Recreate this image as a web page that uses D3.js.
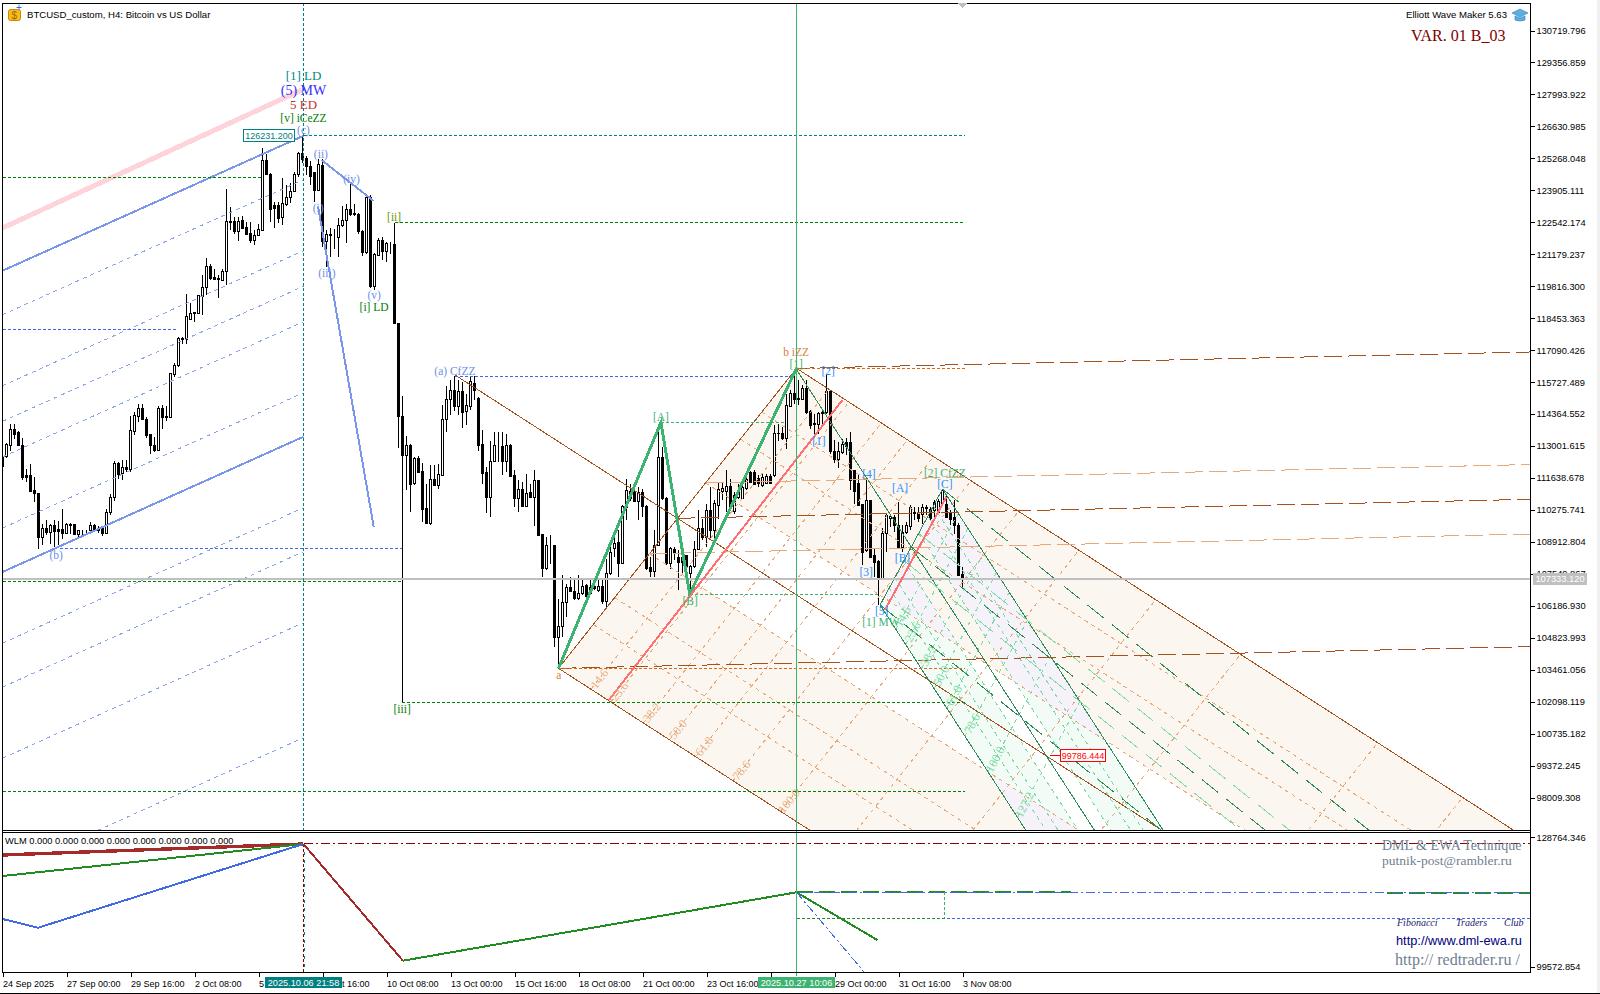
<!DOCTYPE html>
<html>
<head>
<meta charset="utf-8">
<script src="https://cdn.jsdelivr.net/npm/d3@7/dist/d3.min.js"></script>
<style>
  body { margin: 0; background: #fff; }
  svg { display: block; }
  svg line, svg path, svg rect, svg polygon { shape-rendering: crispEdges; }
  text { font-family: "Liberation Sans", sans-serif; font-size: 9px; fill: #000; }
  .ser { font-family: "Liberation Serif", serif; }
</style>
</head>
<body>
<svg id="chart" width="1600" height="994"></svg>
<script>
// H4 candles, bar 0 = 24 Sep 2025 08:00
const opens = [
112558,112558,113028,113696,113582,113013,111733,111733,111107,110964,
109115,109470,109328,109613,109428,109428,109285,109627,109655,109229,
109385,109371,109385,109599,109470,109470,109285,110182,110794,112245,
111818,112074,111989,113639,114237,114593,114123,113483,113013,112814,
114593,114265,114235,116058,116442,117566,117538,118391,118705,118648,
119388,119757,120668,120170,120128,120071,120426,122560,122560,122134,
122603,122318,122062,121749,121977,122205,125193,124595,123272,123272,
122731,123315,123599,123841,124566,125477,125249,124936,124652,123912,
124979,121707,122020,121949,121892,122404,122603,123087,122902,122888,
122162,121237,123599,119786,121138,121749,121280,121607,121593,118235,
114265,112615,113028,111420,112487,111932,110324,109684,111576,111320,
111761,114123,114990,115375,114692,115332,114450,114705,115686,115034,
113070,111875,110820,112344,112954,112985,112359,113027,111747,110779,
111135,110438,111007,110822,111533,109214,107791,108759,108759,104818,
105302,106340,106980,106810,106483,106696,107051,106696,107009,106838,
107023,106383,107578,108617,108887,108005,110395,110751,111035,110651,
111035,110438,107806,107663,108759,112529,110779,107976,108588,108261,
108261,108332,107550,107863,108588,109470,109114,110253,109399,110466,
111078,111078,111277,110210,110822,110751,111206,111889,111889,111604,
111320,111420,111718,111747,113554,113554,113312,114692,115233,115019,
114991,115446,114450,113952,113924,114379,114422,115332,112785,112415,
112743,113141,113141,111960,111391,110509,108545,110680,108332,108090,
107336,109257,109897,109968,109613,108688,109328,109584,110182,110182,
110082,110395,110295,110253,110182,110537,110509,110182,109940,109613,
107507];
const highs = [
112601,113127,113924,113952,113625,113355,112031,112216,111676,110964,
109684,109826,109684,109826,109798,110324,109712,109712,109684,109428,
109428,109428,109769,109655,109599,109542,110324,110936,112345,112316,
112387,112416,114265,114450,114778,114778,114237,113525,113383,114692,
114735,114692,116115,116542,117652,117652,119473,119103,118705,119430,
120284,121038,120781,120569,120284,120569,123940,123172,122774,122774,
122802,122560,122560,122205,122461,125690,125449,124623,123414,123414,
124410,124126,124197,124695,125534,126231,125363,125136,124695,125221,
125221,122205,122276,122261,122703,123229,123315,124196,123315,122916,
122205,123699,123699,121237,121891,121920,121707,121707,122518,118235,
115119,113412,113070,112530,112558,112273,111363,112174,112174,112216,
114735,115574,115802,115973,115802,115717,115233,115973,115973,115093,
113668,112088,113211,113595,113595,113596,113525,113098,111960,111534,
111462,111789,111391,111960,111533,109214,109114,109186,108759,106483,
107478,107123,107407,107265,107478,107379,107123,107336,107265,107336,
107336,108190,108901,109399,109399,110466,111604,111363,111462,111249,
111178,110466,108261,109399,113952,112956,110822,108688,108688,108545,
108474,108332,107905,108944,110281,109897,110537,111249,110680,111462,
111462,111989,111605,111035,111391,111462,111889,111918,111960,111747,
111846,111818,111818,113910,113952,113810,115233,115403,116300,115802,
115588,115802,114550,114379,114450,114521,116086,115375,113241,113170,
113312,113355,113596,111960,111818,110538,111533,110680,108617,108119,
109513,110153,110110,110039,110608,109613,109755,110466,110395,110395,
110509,110466,110395,110708,110751,111164,110893,110253,110680,109712,
107834];
const lows = [
112103,112501,112786,113312,113000,111562,111462,111078,110609,108617,
108759,109186,108830,108688,108759,109044,109229,109229,109229,109115,
109186,109229,109328,109371,109285,109143,109229,110040,110652,111605,
111562,111875,111889,113454,114023,114095,113355,112643,112743,112786,
113739,114066,114193,115944,116371,117339,117367,118363,118292,118648,
118577,119430,120099,120071,119331,120028,119857,122205,122062,121749,
122233,121991,121636,121564,121949,122176,124538,122560,122318,122518,
122418,123229,123343,123812,124481,125050,124552,124125,123414,123912,
121493,120640,121066,121422,121066,122347,121664,122802,122802,122062,
121095,121209,119758,119672,121095,120924,120853,121209,118221,112899,
102027,111135,110182,111320,111846,109755,109655,109613,111277,111178,
111747,113597,114308,114491,114308,113753,113881,114521,114948,112784,
111362,110125,109954,112314,112314,111747,111889,111676,110395,110182,
110395,110395,110779,109584,109186,107407,107692,107976,104419,103495,
104846,105700,106767,106411,106411,106625,106483,106625,106838,106767,
106269,106056,107478,108261,107407,107976,109826,110651,110609,109826,
109968,107692,107407,107407,108759,110680,107905,107763,108119,106838,
107550,107550,106625,107806,108545,108972,108688,109043,108830,109897,
110680,110182,110324,110082,110751,110722,111135,111420,111320,111249,
111249,111363,111363,111676,113212,113269,112885,114664,114806,114735,
114948,114379,113739,113497,113525,113952,114379,112672,112288,112074,
112672,112600,111107,110538,110466,107905,108474,108218,107407,106198,
107293,108474,109542,109328,108617,108474,109257,109399,109854,109755,
109655,110039,109826,109968,110150,110537,109940,109613,109257,107478,
106952];
const closes = [
112145,113070,113696,113497,113000,111676,111676,111078,110964,109115,
109470,109328,109613,109371,109371,109285,109655,109655,109229,109399,
109385,109371,109599,109428,109399,109285,110182,110794,112245,111790,
112074,111989,113668,114308,114593,114123,113454,113013,112814,114593,
114208,114208,116087,116442,117580,117538,118505,118648,118648,119402,
119757,120668,120142,120099,120099,120426,122560,122518,122134,122560,
122276,122034,121749,121977,122233,125193,124566,123101,123130,122703,
123343,123599,123855,124581,125477,125221,124908,124510,123912,125022,
121707,122020,121963,121949,122404,122631,123087,122888,122860,122134,
121237,123599,119786,121180,121778,121280,121635,121607,118221,114278,
112615,113028,111363,112458,111875,110310,109684,111576,111320,111775,
114123,114977,115375,114692,115332,114449,114721,115759,115375,113028,
111845,110820,112344,113027,112954,112359,113027,111704,110779,111135,
110438,110964,110822,111533,109186,107791,108759,108759,104818,105302,
106326,106980,106810,106483,106696,107023,106582,106980,106909,107023,
106383,107578,108474,108858,108005,110438,111107,111078,110651,111035,
110438,107763,107663,108759,112529,110751,107976,108617,108403,108019,
108019,107834,107863,108588,109470,109114,110253,109399,110537,111135,
111178,111277,110395,110893,111007,111249,111576,111462,111363,111420,
111676,111718,111391,113525,113525,113312,114735,115233,114991,114977,
115446,114422,113881,113924,114379,114422,115332,112785,112415,112785,
113056,112999,111533,111078,110466,108474,110680,108261,108047,107336,
109285,110039,109996,109613,108688,109328,109613,110395,110110,109897,
110395,110324,109897,110608,110651,111107,109968,109869,109613,107478,
107333];

const priceTicks = [130719.796,129356.859,127993.922,126630.985,125268.048,123905.111,122542.174,121179.237,119816.300,118453.363,117090.426,115727.489,114364.552,113001.615,111638.678,110275.741,108912.804,107549.867,106186.930,104823.993,103461.056,102098.119,100735.182,99372.245,98009.308];
const wlmTicks = [128764.346, 99572.854];
const timeTickBars = [0,16,32,48,64,80,96,112,128,144,160,176,192,208,224,240];
const timeTickLabels = ["24 Sep 2025","27 Sep 00:00","29 Sep 16:00","2 Oct 08:00","5 Oct 00:00","7 Oct 16:00","10 Oct 08:00","13 Oct 00:00","15 Oct 16:00","18 Oct 08:00","21 Oct 00:00","23 Oct 16:00","26 Oct 08:00","29 Oct 00:00","31 Oct 16:00","3 Nov 08:00"];

const currentPrice = 107333.12;
const peakBar = 75.25, pivotBar = 198.5, rightBar = 240.6, edgeBar = 382;

// left channel [bar, price]
const chanUpper = [[0,120476],[75.25,126231]];
const chanLower = [[0,107626],[75.25,113396]];
const chanPink = [[0,122297],[74.75,128182]];
const chanLevels = [0.146,0.382,0.5,0.618,0.854,1.236,1.382,1.618,2];
const waveBlue1 = [[79.75,125197],[92.8,123448]];
const waveBlue2 = [[78.9,123205],[92.8,109558]];
const waveGreen = [[139,103519],[164.6,114000],[171.8,106675],[198.5,116313]];
const salmon1 = [[151.6,102167],[210,114961]];
const salmon2 = [[220.6,106005],[236,110837]];

// horizontal levels: price, from bar, to bar, kind
const levelPrices = [126231,124459,122540,117947,108637,107229,102069,98273,103519,116313,115972,114010,106675];
const levelFrom = [75.25,0,98.1,0,14.3,0,99.8,0,139,198.5,113,164.6,171.8];
const levelTo = [rightBar,64.8,rightBar,43.8,99.8,99.8,rightBar,rightBar,rightBar,rightBar,198,195.6,219.3];
const levelKind = ["teal","green","green","blue","blue","green","green","green","orange","orange","blue","sea","sea"];

// fibonacci forks: base, top, step along the channel per 100%
const forkA = {a:[139,103519], top:[198.5,116313], step:[55.5,-6099]};
const forkB = {a:[219.4,106219], top:[235,111165], step:[27,-7122]};
const fibRows = [0.146,0.236,0.382,0.618,0.764,0.854];
const fibCols = [0.146,0.236,0.382,0.5,0.618,0.786,1,1.272,1.618,2,2.618,3];
const fibColLabels = ["14.6","23.6","38.2","50.0","61.8","78.6","100.0"];
const fibColLabelsB = ["14.6","23.6","38.2","50.0","61.8","78.6","100.0","127.2"];
const trendRows = [0,0.382,0.5,0.618,1];

// WLM sub window [bar, value]
const wlmBrownA = [[0,124771],[75.25,127253]];
const wlmBrownB = [[75.25,127253],[100.1,100926]];
const wlmGreenA = [[0,120034],[75.25,127253]];
const wlmBlue = [[0,110333],[8.9,108370],[75.25,127253]];
const wlmGreenB = [[100.1,100926],[198.5,116356]];
const wlmGreenC = [[198.5,116356],[218.7,105595]];
const wlmBlueDash = [[198.5,116356],[215.4,98376]];

const labelRows = [
  ["[1] LD",75.25,128822,"teal"],["(5) MW",75.25,128182,"mw"],["5 ED",75.25,127564,"ed"],["[v] iCeZZ",75.25,127010,"grn"],
  ["(c)",75.25,126477,"wave"],["(ii)",79.6,125453,"wave"],["(iv)",87.25,124386,"wave"],["(i)",78.9,123150,"wave"],
  ["(iii)",81.1,120378,"wave"],["(v)",92.9,119461,"wave"],["[i] LD",92.9,118949,"grn"],["[ii]",97.9,122766,"olive"],
  ["[iii]",99.9,101783,"grn"],["(b)",13.4,108351,"wave"],["(a) CfZZ",113.1,116220,"wave"],["b iZZ",198.4,117022,"org"],
  ["[1]",198.4,116497,"sea"],["[1]",204.1,113213,"dod"],["[2]",206.4,116211,"dod"],["[3]",215.9,107613,"dod"],
  ["[4]",216.6,111805,"dod"],["[5]",219.8,105963,"dod"],["[A]",224.4,111209,"dod"],["[B]",225,108224,"dod"],
  ["[C]",235.6,111366,"dod"],["[A]",164.6,114224,"sea"],["[B]",171.9,106389,"sea"],["[1] MW",219.6,105507,"sea"],
  ["[2] CfZZ",235.6,111861,"sea"],["a",139.1,103233,"org"]
];
const labelColor = {teal:"#008b8b",mw:"#3030ff",ed:"#c83030",grn:"#008000",wave:"#6f8fe8",olive:"#5f9a00",org:"#d9803c",sea:"#3cb371",dod:"#1e90ff"};
const levelColor = {teal:"#008080",green:"#008000",blue:"#4169e1",orange:"#d2691e",sea:"#3cb371"};

const BROWN = "#a5521a", ORANGE_SOFT = "#e8a878", SEA = "#2e8b57", MINT = "#7edba5";
const svg = d3.select("#chart");

const x = d3.scaleLinear().domain([0,240]).range([2.5,962.5]);
const y = d3.scaleLinear().domain([130719.796,98009.308]).range([30.5,797.5]);
const wy = d3.scaleLinear().domain([128764.346,99572.854]).range([837.3,966.7]);
const lineMain = d3.line().x(d => x(d[0])).y(d => y(d[1]));
const lineWlm = d3.line().x(d => x(d[0])).y(d => wy(d[1]));

const defs = svg.append("defs");
defs.append("clipPath").attr("id","mainClip").append("rect").attr("x",3).attr("y",3).attr("width",1527).attr("height",827);
defs.append("clipPath").attr("id","wlmClip").append("rect").attr("x",3).attr("y",833).attr("width",1527).attr("height",139);

const main = svg.append("g").attr("clip-path","url(#mainClip)");
const wlm = svg.append("g").attr("clip-path","url(#wlmClip)");

function forkPoint(fork, f, t) {
    return [fork.a[0] + f*(fork.top[0]-fork.a[0]) + t*fork.step[0],
            fork.a[1] + f*(fork.top[1]-fork.a[1]) + t*fork.step[1]];
}
function band(fork, f0, f1, tEnd) {
    return [forkPoint(fork,f0,0), forkPoint(fork,f1,0), forkPoint(fork,f1,tEnd), forkPoint(fork,f0,tEnd)];
}
function polyStr(pts) {
    return pts.map(p => x(p[0]) + "," + y(p[1])).join(" ");
}
function drawPath(parent, pts, color, width, dash, gen) {
    return parent.append("path").attr("d",(gen || lineMain)(pts)).attr("fill","none")
        .attr("stroke",color).attr("stroke-width",width).attr("stroke-dasharray",dash || null);
}

// band fills, green over orange turns lavender like the xor drawing of the terminal
const orangeBands = [band(forkA,0,0.382,5), band(forkA,0.618,1,5)];
const greenBands = [band(forkB,0,0.382,4), band(forkB,0.618,1,4)];
main.selectAll("polygon.oband").data(orangeBands).enter().append("polygon")
    .attr("class","oband").attr("points",polyStr).attr("fill","#fcf6f1");
main.selectAll("polygon.gband").data(greenBands).enter().append("polygon")
    .attr("class","gband").attr("points",polyStr).attr("fill","#f2fbf5");
orangeBands.forEach((b,i) => {
    defs.append("clipPath").attr("id","oclip"+i).append("polygon").attr("points",polyStr(b));
    main.append("g").attr("clip-path","url(#oclip"+i+")").selectAll("polygon").data(greenBands).enter()
        .append("polygon").attr("points",polyStr).attr("fill","#f5f2fa");
});

// candles
const candles = d3.range(opens.length);
main.selectAll("line.wick").data(candles).enter().append("line").attr("class","wick")
    .attr("x1",i => x(i)).attr("x2",i => x(i)).attr("y1",i => y(highs[i])).attr("y2",i => y(lows[i]))
    .attr("stroke","#000");
main.selectAll("rect.body").data(candles).enter().append("rect").attr("class","body")
    .attr("x",i => x(i)-1).attr("width",2)
    .attr("y",i => y(Math.max(opens[i],closes[i])))
    .attr("height",i => Math.abs(y(opens[i])-y(closes[i])))
    .attr("fill",i => closes[i] >= opens[i] ? "#fff" : "#000").attr("stroke","#000");

// fork grids
function drawFork(fork, soft, hard, cols, tEnd, centerFrom) {
    fibRows.forEach(f => drawPath(main,[forkPoint(fork,f,0),forkPoint(fork,f,tEnd)],soft,1,"4,4"));
    cols.forEach(t => drawPath(main,[forkPoint(fork,0,t),forkPoint(fork,1,t)],soft,1,"4,4"));
    drawPath(main,[fork.a,fork.top],hard,1);
    drawPath(main,[forkPoint(fork,0,0),forkPoint(fork,0,tEnd)],hard,1);
    drawPath(main,[forkPoint(fork,1,0),forkPoint(fork,1,tEnd)],hard,1);
    drawPath(main,[forkPoint(fork,0.5,centerFrom),forkPoint(fork,0.5,tEnd)],hard,1);
}
drawFork(forkA, ORANGE_SOFT, BROWN, fibCols, 5, -1);
drawFork(forkB, MINT, SEA, fibCols.slice(0,8), 4, -1.06);

// slow trend lines out of both forks
trendRows.forEach(f => {
    const s = forkPoint(forkA,f,0);
    const strong = f === 0 || f === 0.5 || f === 1;
    drawPath(main,[s,[edgeBar, s[1] + (edgeBar-s[0])*3.8]], strong ? BROWN : ORANGE_SOFT, 1, "18,6");
});
trendRows.forEach(f => {
    const s = forkPoint(forkB,f,0);
    const strong = f === 0 || f === 0.5 || f === 1;
    drawPath(main,[s,[s[0]+130, s[1]-130*136.5]], strong ? SEA : MINT, 1, "21,10");
});

// left channel
chanLevels.forEach(k => {
    const pts = chanUpper.map((p,i) => [p[0], p[1] + k*(chanLower[i][1]-chanUpper[i][1])]);
    drawPath(main,pts,"#8aa3ea",1,"4,4");
});
drawPath(main,chanPink,"#ffd3da",5);
drawPath(main,chanUpper,"#7a96ea",2);
drawPath(main,chanLower,"#7a96ea",2);
drawPath(main,waveBlue1,"#7a96ea",2);
drawPath(main,waveBlue2,"#7a96ea",2);

// horizontal levels
levelPrices.forEach((p,i) => drawPath(main,[[levelFrom[i],p],[levelTo[i],p]],levelColor[levelKind[i]],1,"3,2"));
main.append("line").attr("x1",x(0)).attr("x2",x(edgeBar)).attr("y1",y(currentPrice)).attr("y2",y(currentPrice))
    .attr("stroke","#c0c0c0").attr("stroke-width",2);

// verticals
main.append("line").attr("x1",x(peakBar)).attr("x2",x(peakBar)).attr("y1",3).attr("y2",830)
    .attr("stroke","#008080").attr("stroke-dasharray","3,2");
svg.append("line").attr("x1",x(pivotBar)).attr("x2",x(pivotBar)).attr("y1",3).attr("y2",976)
    .attr("stroke","#3cb371");

drawPath(main,waveGreen,"#3cb371",3);
drawPath(main,salmon1,"#ff6f6f",2);
drawPath(main,salmon2,"#ff6f6f",2);

// rotated percent labels on the fork edges
fibColLabels.forEach((txt,i) => {
    const p = forkPoint(forkA,0.035,fibCols[i]);
    main.append("text").attr("class","ser").attr("transform","translate("+x(p[0])+","+y(p[1])+") rotate(-51)")
        .attr("text-anchor","middle").attr("dy","0.35em").style("font-size","12px").style("fill","#e8b07e").text(txt);
});
fibColLabelsB.forEach((txt,i) => {
    const p = forkPoint(forkB,0.11,fibCols[i]);
    main.append("text").attr("class","ser").attr("transform","translate("+x(p[0])+","+y(p[1])+") rotate(-62)")
        .attr("text-anchor","middle").attr("dy","0.35em").style("font-size","12px").style("fill","#7edba5").text(txt);
});

// wave labels
main.selectAll("text.wave").data(labelRows).enter().append("text").attr("class","wave ser")
    .attr("x",d => x(d[1])).attr("y",d => y(d[2])).attr("text-anchor","middle").attr("dy","0.35em")
    .style("font-size",d => d[3]==="teal"||d[3]==="ed" ? "13px" : d[3]==="mw" ? "14px" : "11.5px")
    .style("fill",d => labelColor[d[3]]).text(d => d[0]);

// value boxes
function valueBox(parent, cx, cy, w, txt, color) {
    parent.append("rect").attr("x",cx-w/2).attr("y",cy-6).attr("width",w).attr("height",12)
        .attr("fill","#fff").attr("stroke",color);
    parent.append("text").attr("x",cx).attr("y",cy).attr("dy","0.35em").attr("text-anchor","middle")
        .style("fill",color).text(txt);
}
valueBox(main,x(peakBar)-34.5,y(126231),50.5,"126231.200","#008080");
const stopBar = 264.4, stopPrice = 99786.444;
main.append("line").attr("x1",x(stopBar)-10).attr("x2",x(stopBar)).attr("y1",y(stopPrice)).attr("y2",y(stopPrice)).attr("stroke","#f00");
valueBox(main,x(stopBar)+23,y(stopPrice),45.5,"99786.444","#f00");

// WLM window
drawPath(wlm,[[pivotBar,116356],[267,116356]],"#228b22",2,"16,6",lineWlm);
drawPath(wlm,[[346,116200],[edgeBar,116200]],"#228b22",2,"16,6",lineWlm);
drawPath(wlm,[[peakBar,127253],[edgeBar,127253]],"#8b0000",1,"9,3,2,3",lineWlm);
drawPath(wlm,[[pivotBar,116356],[edgeBar,116356]],"#4169e1",1,"9,3,2,3",lineWlm);
drawPath(wlm,[[pivotBar,110490],[edgeBar,110490]],"#4169e1",1,"3,2",lineWlm);
drawPath(wlm,[[pivotBar,110490],[235.6,110490]],"#228b22",1,"3,2",lineWlm);
drawPath(wlm,[[235.6,116356],[235.6,110490]],"#3cb371",1,"3,2",lineWlm);
drawPath(wlm,[[pivotBar,116356],[pivotBar,110490]],"#4169e1",1,"3,2",lineWlm);
drawPath(wlm,[[peakBar,127253],[peakBar,95000]],"#8b0000",1,"3,2",lineWlm);
drawPath(wlm,[[peakBar+0.3,127253],[peakBar+0.3,95000]],"#008080",1,"3,5",lineWlm);
drawPath(wlm,wlmBrownA,"#a52a2a",3.4,null,lineWlm);
drawPath(wlm,wlmGreenA,"#228b22",2,null,lineWlm);
drawPath(wlm,wlmBlue,"#4169e1",2,null,lineWlm);
drawPath(wlm,wlmBrownB,"#a52a2a",2,null,lineWlm);
drawPath(wlm,wlmGreenB,"#228b22",2,null,lineWlm);
drawPath(wlm,wlmGreenC,"#228b22",2,null,lineWlm);
drawPath(wlm,wlmBlueDash,"#4169e1",1,"9,3,2,3",lineWlm);

// frame
[[2.5,3,1530.5,3],[2.5,3,2.5,972.5],[1530.5,3,1530.5,972.5],[2.5,830.5,1530.5,830.5],[2.5,832.5,1530.5,832.5],[2.5,972.5,1530.5,972.5],[0,993.5,1600,993.5]]
    .forEach(s => svg.append("line").attr("x1",s[0]).attr("y1",s[1]).attr("x2",s[2]).attr("y2",s[3]).attr("stroke","#000"));
svg.append("rect").attr("x",1597).attr("y",0).attr("width",3).attr("height",993).attr("fill","#f0f0f0");
svg.append("polygon").attr("points","957,3 967,3 962,8").attr("fill","#c0c0c0");

// axes
const axisRight = d3.axisRight(y).tickValues(priceTicks).tickFormat(d3.format(".3f")).tickSize(4).tickPadding(2);
const gr = svg.append("g").attr("transform","translate(1530.5,0)").call(axisRight);
const axisWlm = d3.axisRight(wy).tickValues(wlmTicks).tickFormat(d3.format(".3f")).tickSize(4).tickPadding(2);
const gw = svg.append("g").attr("transform","translate(1530.5,0)").call(axisWlm);
const axisTime = d3.axisBottom(x).tickValues(timeTickBars).tickFormat((d,i) => timeTickLabels[i]).tickSize(4).tickPadding(4);
const gt = svg.append("g").attr("transform","translate(0,972.5)").call(axisTime);
[gr,gw].forEach(g => {
    g.select(".domain").remove();
    g.attr("font-family",null).attr("font-size",null);
    g.selectAll("text").style("font-size","9.3px");
});
gt.select(".domain").remove();
gt.attr("font-family",null).attr("font-size",null);
gt.selectAll("text").style("font-size","9px").attr("text-anchor","start").attr("dx","0");

// current price box
svg.append("rect").attr("x",1533).attr("y",y(currentPrice)-6).attr("width",54).attr("height",12).attr("fill","#c0c0c0");
svg.append("text").attr("x",1560).attr("y",y(currentPrice)).attr("dy","0.35em").attr("text-anchor","middle")
    .style("fill","#fff").style("font-size","9.3px").text("107333.120");

// time boxes
function timeBox(bar, w, color, txt) {
    svg.append("rect").attr("x",x(bar)-w/2).attr("y",976.5).attr("width",w).attr("height",11).attr("fill",color);
    svg.append("text").attr("x",x(bar)).attr("y",985.5).attr("text-anchor","middle").style("fill","#fff").style("font-size","9.2px").text(txt);
}
timeBox(peakBar,77,"#008080","2025.10.06 21:58");
timeBox(pivotBar,77,"#3cb371","2025.10.27 10:06");

// captions
function caption(px, py, txt, size, color, cls, anchor, italic) {
    return svg.append("text").attr("class",cls||null).attr("x",px).attr("y",py).attr("text-anchor",anchor||"start")
        .style("font-size",size+"px").style("fill",color).style("font-style",italic?"italic":null).text(txt);
}
caption(27,18,"BTCUSD_custom, H4:  Bitcoin vs US Dollar",9.6,"#000");
caption(1507,18,"Elliott Wave Maker 5.63",9.6,"#000",null,"end");
caption(1411,41,"VAR. 01 B_03",16,"#800000","ser");
caption(5,844,"WLM 0.000 0.000 0.000 0.000 0.000 0.000 0.000 0.000",9.3,"#000");
caption(1382,850,"DML & EWA Technique",14,"#708090","ser");
caption(1382,865,"putnik-post@rambler.ru",13.5,"#708090","ser");
caption(1397,926,"Fibonacci",10,"#191970","ser",null,true);
caption(1456,926,"Traders",10,"#191970","ser",null,true);
caption(1504,926,"Club",10,"#191970","ser",null,true);
caption(1396,945,"http://www.dml-ewa.ru",12.8,"#000080");
caption(1395,965,"http:// redtrader.ru /",16,"#708090","ser");

// coin icon
svg.append("rect").attr("x",8.5).attr("y",9.5).attr("width",12).attr("height",11).attr("rx",2)
    .attr("fill","#f6bb1e").attr("stroke","#c88a00").style("shape-rendering","auto");
caption(11.5,18.5,"$",10,"#a06a00");
caption(16,11,"+",10,"#1e70d0");
// cap icon
svg.append("path").attr("d","M1512 13 L1520 9 L1528 13 L1520 17 Z M1515 16 L1515 20 Q1520 22 1525 20 L1525 16 L1520 18 Z")
    .attr("fill","#5aaee0").attr("stroke","#2a7fb8").attr("stroke-width",0.6).style("shape-rendering","auto");
</script>
</body>
</html>
